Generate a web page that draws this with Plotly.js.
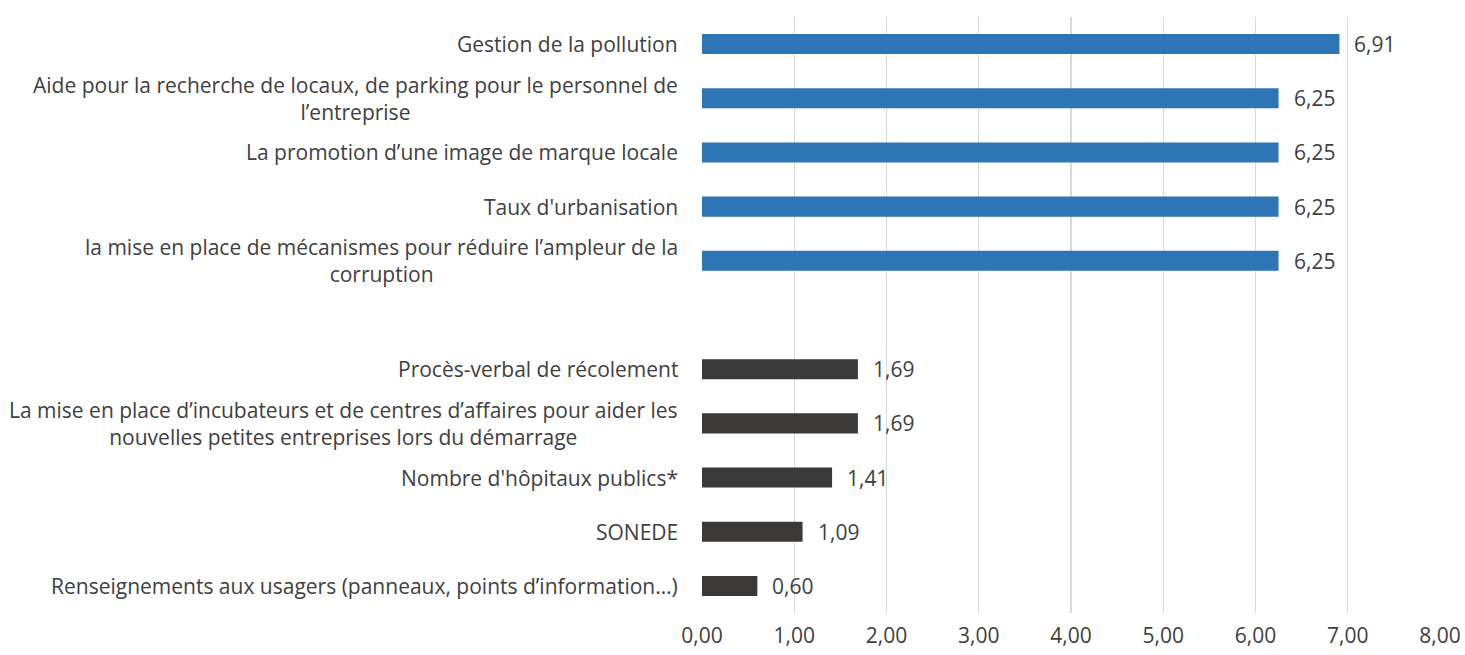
<!DOCTYPE html>
<html><head><meta charset="utf-8">
<script src="https://cdn.plot.ly/plotly-3.0.1.min.js"></script>
<style>html,body{margin:0;padding:0;background:#fff}#c{width:1465px;height:655px}</style>
</head><body><div id="c"></div>
<script>
const categories = [
  "Gestion de la pollution",
  "Aide pour la recherche de locaux, de parking pour le personnel de<br>l’entreprise",
  "La promotion d’une image de marque locale",
  "Taux d'urbanisation",
  "la mise en place de mécanismes pour réduire l’ampleur de la<br>corruption",
  " ",
  "Procès-verbal de récolement",
  "La mise en place d’incubateurs et de centres d’affaires pour aider les<br>nouvelles petites entreprises lors du démarrage",
  "Nombre d'hôpitaux publics*",
  "SONEDE",
  "Renseignements aux usagers (panneaux, points d’information…)"
];
const values = [6.91, 6.25, 6.25, 6.25, 6.25, null, 1.69, 1.69, 1.41, 1.09, 0.60];
const groups = ["top","top","top","top","top",null,"bottom","bottom","bottom","bottom","bottom"];
const groupColors = {top: "#2E75B6", bottom: "#3B3838"};
const xTickVals = [0,1,2,3,4,5,6,7,8];

const font = "'Open Sans', 'Noto Sans', sans-serif";
const textColor = "#404040";
const fs = 21;
const fmt = v => v.toFixed(2).replace(".", ",");

const annotations = [];
categories.forEach((c, i) => {
  if (values[i] === null) return;
  annotations.push({x: 0, xref: "paper", y: c, yref: "y", text: c, showarrow: false,
    xanchor: "right", align: "center", xshift: -21, font: {family: font, size: fs, color: textColor}});
  annotations.push({x: values[i], xref: "x", y: c, yref: "y", text: fmt(values[i]), showarrow: false,
    xanchor: "left", xshift: 13, font: {family: font, size: fs, color: textColor}});
});

Plotly.newPlot("c", [{
  type: "bar", orientation: "h", y: categories, x: values,
  marker: {color: groups.map(g => g ? groupColors[g] : "rgba(0,0,0,0)")},
  width: 0.37, hoverinfo: "skip"
}], {
  width: 1465, height: 655,
  margin: {l: 701, r: 24, t: 17, b: 42},
  paper_bgcolor: "#fff", plot_bgcolor: "#fff",
  separators: ", ",
  showlegend: false,
  xaxis: {range: [-0.0108, 8.0108], tickvals: xTickVals, ticktext: xTickVals.map(fmt),
    showgrid: true, gridcolor: "#D9D9D9", gridwidth: 1.3, zeroline: false, showline: false,
    ticks: "", ticklabelstandoff: 8,
    tickfont: {family: font, size: fs, color: textColor}},
  yaxis: {type: "category", categoryorder: "array", categoryarray: categories,
    autorange: "reversed", showticklabels: false, showgrid: false, zeroline: false, showline: false, ticks: ""},
  annotations: annotations
}, {staticPlot: true});
</script></body></html>
